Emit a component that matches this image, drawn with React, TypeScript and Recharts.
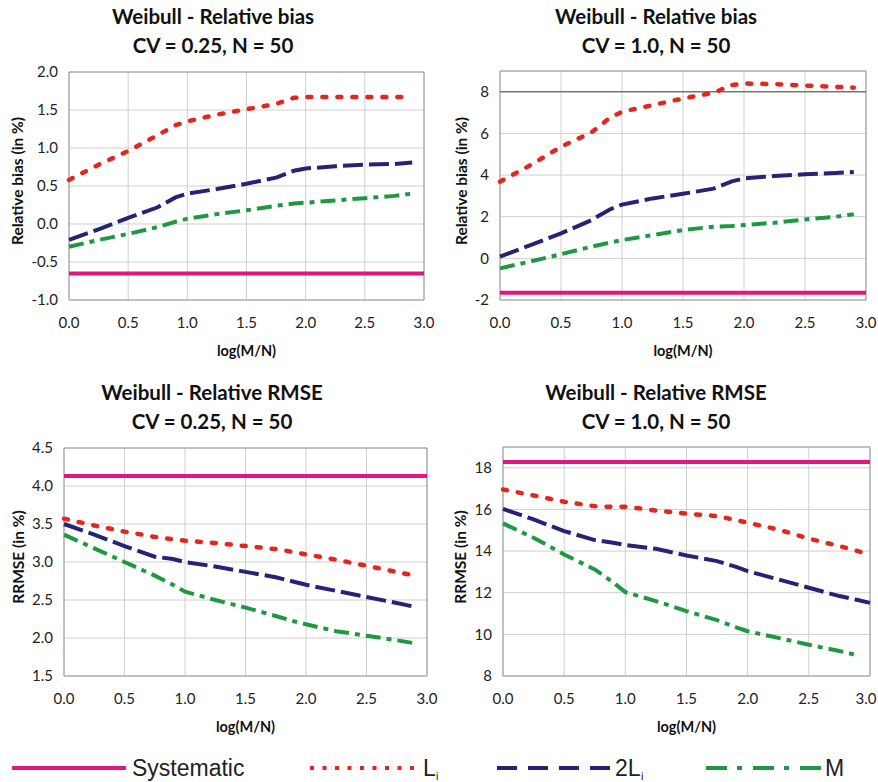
import React from "react";
import {
  LineChart,
  Line,
  XAxis,
  YAxis,
  CartesianGrid,
  ReferenceArea,
  ReferenceLine,
} from "recharts";

// log(M/N) positions
const X = [0, 0.25, 0.5, 0.75, 0.9, 1.0, 1.25, 1.5, 1.75, 1.9, 2.0, 2.25, 2.5, 2.75, 2.9, 3.0];
const xTicks = [0, 0.5, 1, 1.5, 2, 2.5, 3];

// Relative bias, CV = 0.25
const biasLo_L = [0.58, 0.78, 0.96, 1.17, 1.3, 1.35, 1.44, 1.51, 1.58, 1.66, 1.67, 1.67, 1.67, 1.67, 1.67, null];
const biasLo_2L = [-0.21, -0.07, 0.08, 0.22, 0.35, 0.4, 0.46, 0.53, 0.61, 0.7, 0.73, 0.76, 0.78, 0.79, 0.81, null];
const biasLo_M = [-0.3, -0.21, -0.13, -0.04, 0.03, 0.07, 0.13, 0.18, 0.24, 0.27, 0.28, 0.31, 0.34, 0.37, 0.4, null];
const biasLo_sys = -0.65;

// Relative bias, CV = 1.0
const biasHi_L = [3.68, 4.48, 5.36, 6.05, 6.75, 7.04, 7.36, 7.68, 7.95, 8.32, 8.4, 8.37, 8.3, 8.24, 8.2, null];
const biasHi_2L = [0.08, 0.64, 1.2, 1.84, 2.35, 2.58, 2.88, 3.1, 3.35, 3.7, 3.84, 3.96, 4.04, 4.1, 4.15, null];
const biasHi_M = [-0.48, -0.15, 0.2, 0.56, 0.76, 0.88, 1.12, 1.36, 1.52, 1.56, 1.6, 1.71, 1.87, 2.0, 2.12, null];
const biasHi_sys = -1.65;

// RRMSE, CV = 0.25
const rmseLo_L = [3.57, 3.48, 3.4, 3.33, 3.3, 3.28, 3.25, 3.21, 3.17, 3.13, 3.1, 3.03, 2.95, 2.87, 2.82, null];
const rmseLo_2L = [3.5, 3.36, 3.21, 3.07, 3.04, 3.0, 2.94, 2.87, 2.8, 2.74, 2.7, 2.62, 2.54, 2.46, 2.41, null];
const rmseLo_M = [3.36, 3.18, 3.0, 2.82, 2.7, 2.61, 2.5, 2.4, 2.29, 2.22, 2.18, 2.09, 2.03, 1.97, 1.93, null];
const rmseLo_sys = 4.13;

// RRMSE, CV = 1.0
const rmseHi_L = [16.96, 16.67, 16.37, 16.16, 16.12, 16.13, 15.95, 15.8, 15.68, 15.5, 15.36, 15.04, 14.6, 14.24, 14.0, 13.84];
const rmseHi_2L = [16.03, 15.52, 14.96, 14.53, 14.4, 14.29, 14.11, 13.79, 13.52, 13.25, 13.04, 12.64, 12.24, 11.84, 11.65, 11.51];
const rmseHi_M = [15.33, 14.64, 13.84, 13.12, 12.5, 12.03, 11.6, 11.12, 10.68, 10.35, 10.15, 9.83, 9.5, 9.2, 8.99, null];
const rmseHi_sys = 18.28;

const C_SYS = "#e0177f";
const C_L = "#e3261f";
const C_2L = "#262376";
const C_M = "#1f9843";

const FONT = "Lato, 'Open Sans', sans-serif";

const rows = (l: any[], l2: any[], m: any[], sys: number) =>
  X.map((x, i) => ({ x, L: l[i], L2: l2[i], M: m[i], sys }));

const YW = 50;
const XH = 30;

// x tick that keeps its label inside the panel box
function XTick(props: any) {
  const { x, y, payload, maxX } = props;
  const half = 11;
  const cx = Math.min(x, maxX - half);
  return (
    <text x={cx} y={y} dy="0.71em" textAnchor="middle" fontFamily={FONT} fontSize={15} fill="#222">
      {Number(payload.value).toFixed(1)}
    </text>
  );
}

function Panel(props: any) {
  const { left, top, w, h, plot, title1, title2, titleX, titleY, yLabel, yLabelX, xLabelY, data, yDomain, yTicks, fmt, darkLine } = props;
  const margin = {
    top: plot.t,
    right: w - plot.r,
    bottom: h - plot.b - XH,
    left: plot.l - YW,
  };
  const tickStyle = { fontFamily: FONT, fontSize: 15, fill: "#222" };
  const titleStyle: any = { position: "absolute", left: titleX, transform: "translate(-50%,-50%)", fontFamily: FONT, fontWeight: 700, fontSize: 20.5, whiteSpace: "nowrap", color: "#111" };
  return (
    <div style={{ position: "absolute", left, top, width: w, height: h }}>
      <div style={{ ...titleStyle, top: titleY }}>{title1}</div>
      <div style={{ ...titleStyle, top: titleY + 29 }}>{title2}</div>
      <div style={{ position: "absolute", left: yLabelX, top: (plot.t + plot.b) / 2 - 5, transform: "translate(-50%,-50%) rotate(-90deg)", fontFamily: FONT, fontWeight: 700, fontSize: 15.5, whiteSpace: "nowrap", color: "#111" }}>
        {yLabel}
      </div>
      <div style={{ position: "absolute", left: (plot.l + plot.r) / 2, top: xLabelY, transform: "translate(-50%,-50%)", fontFamily: FONT, fontWeight: 700, fontSize: 14.5, whiteSpace: "nowrap", color: "#111" }}>
        log(M/N)
      </div>
      <div style={{ position: "absolute", left: 0, top: 0 }}>
        <LineChart width={w} height={h} data={data} margin={margin}>
          <CartesianGrid stroke="#cfcfcf" strokeWidth={1} />
          <XAxis
            dataKey="x"
            type="number"
            domain={[0, 3]}
            ticks={xTicks}
            height={XH}
            tickLine={false}
            axisLine={false}
            tickSize={0}
            tickMargin={17}
            tick={<XTick maxX={w - 1} />}
            interval={0}
          />
          <YAxis
            type="number"
            domain={yDomain}
            ticks={yTicks}
            tickFormatter={fmt}
            width={YW}
            tickLine={false}
            axisLine={false}
            tickSize={0}
            tickMargin={11}
            tick={tickStyle}
            interval={0}
            allowDataOverflow
          />
          {darkLine !== undefined && <ReferenceLine y={darkLine} stroke="#444" strokeWidth={1} />}
          <ReferenceArea x1={0} x2={3} y1={yDomain[0]} y2={yDomain[1]} fill="none" stroke="#9a9a9a" strokeWidth={1} />
          <Line dataKey="sys" stroke={C_SYS} strokeWidth={4} dot={false} isAnimationActive={false} />
          <Line dataKey="L" stroke={C_L} strokeWidth={4.5} strokeDasharray="4 11" strokeLinecap="round" dot={false} isAnimationActive={false} />
          <Line dataKey="L2" stroke={C_2L} strokeWidth={4} strokeDasharray="20 6" dot={false} isAnimationActive={false} />
          <Line dataKey="M" stroke={C_M} strokeWidth={4} strokeDasharray="15 6 5 6" dot={false} isAnimationActive={false} />
        </LineChart>
      </div>
    </div>
  );
}

const f1 = (v: number) => v.toFixed(1);
const f0 = (v: number) => String(v);

function Legend() {
  const y = 23;
  const txt = { fontFamily: "'Liberation Sans', Arial, sans-serif", fontSize: 23, fill: "#222" };
  const sub = { fontFamily: "'Liberation Sans', Arial, sans-serif", fontSize: 11, fill: "#222" };
  return (
    <svg width={878} height={37} style={{ position: "absolute", left: 0, top: 745 }}>
      <line x1={12} x2={126} y1={y} y2={y} stroke={C_SYS} strokeWidth={4} />
      <text x={132} y={y + 8} {...txt}>Systematic</text>
      <line x1={310} x2={422} y1={y} y2={y} stroke={C_L} strokeWidth={4} strokeDasharray="4 8.5" />
      <text x={423} y={y + 8} {...txt}>L</text>
      <text x={436} y={y + 12} {...sub}>i</text>
      <line x1={497} x2={612} y1={y} y2={y} stroke={C_2L} strokeWidth={4} strokeDasharray="20 11" />
      <text x={615} y={y + 8} {...txt}>2L</text>
      <text x={641} y={y + 12} {...sub}>i</text>
      <line x1={706} x2={822} y1={y} y2={y} stroke={C_M} strokeWidth={4} strokeDasharray="21 10 5 11" />
      <text x={825} y={y + 8} {...txt}>M</text>
    </svg>
  );
}

export default function App() {
  return (
    <div style={{ position: "absolute", left: 0, top: 0, width: 878, height: 782, background: "#fff", overflow: "hidden" }}>
      <Panel
        left={0} top={0} w={440} h={370}
        plot={{ l: 69, r: 424, t: 72, b: 300 }}
        title1="Weibull - Relative bias" title2="CV = 0.25, N = 50" titleX={213} titleY={16}
        yLabel="Relative bias (in %)" yLabelX={17} xLabelY={350}
        data={rows(biasLo_L, biasLo_2L, biasLo_M, biasLo_sys)}
        yDomain={[-1, 2]} yTicks={[-1, -0.5, 0, 0.5, 1, 1.5, 2]} fmt={f1}
      />
      <Panel
        left={440} top={0} w={438} h={370}
        plot={{ l: 60, r: 426, t: 71, b: 300 }}
        title1="Weibull - Relative bias" title2="CV = 1.0, N = 50" titleX={216} titleY={16}
        yLabel="Relative bias (in %)" yLabelX={21} xLabelY={350}
        data={rows(biasHi_L, biasHi_2L, biasHi_M, biasHi_sys)}
        yDomain={[-2, 9]} yTicks={[-2, 0, 2, 4, 6, 8]} fmt={f0} darkLine={8}
      />
      <Panel
        left={0} top={370} w={440} h={375}
        plot={{ l: 64, r: 427, t: 78, b: 306 }}
        title1="Weibull - Relative RMSE" title2="CV = 0.25, N = 50" titleX={212} titleY={22}
        yLabel="RRMSE (in %)" yLabelX={18} xLabelY={356}
        data={rows(rmseLo_L, rmseLo_2L, rmseLo_M, rmseLo_sys)}
        yDomain={[1.5, 4.5]} yTicks={[1.5, 2, 2.5, 3, 3.5, 4, 4.5]} fmt={f1}
      />
      <Panel
        left={440} top={370} w={438} h={375}
        plot={{ l: 63, r: 430, t: 77, b: 306 }}
        title1="Weibull - Relative RMSE" title2="CV = 1.0, N = 50" titleX={216} titleY={22}
        yLabel="RRMSE (in %)" yLabelX={20} xLabelY={356}
        data={rows(rmseHi_L, rmseHi_2L, rmseHi_M, rmseHi_sys)}
        yDomain={[8, 19]} yTicks={[8, 10, 12, 14, 16, 18]} fmt={f0}
      />
      <Legend />
    </div>
  );
}
